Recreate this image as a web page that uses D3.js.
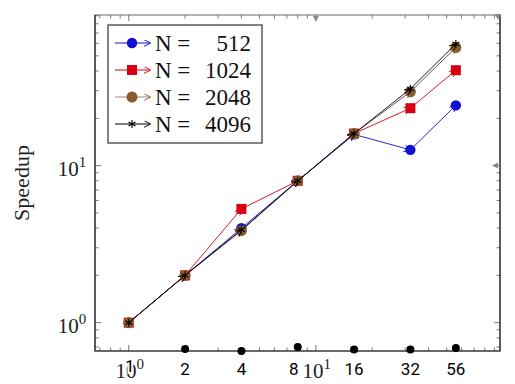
<!DOCTYPE html>
<html>
<head>
<meta charset="utf-8">
<script src="https://cdn.jsdelivr.net/npm/d3@7"></script>
<style>
  body { margin: 0; background: #fff; }
  .serif { font-family: "Liberation Serif", "DejaVu Serif", serif; }
  .sans { font-family: Roboto, "Liberation Sans", sans-serif; }
</style>
</head>
<body>
<div id="chart"></div>
<script>
// data
var threads = [1, 2, 4, 8, 16, 32, 56];
var speedup512 = [1, 2, 4, 8, 15.8, 12.6, 24.2];
var speedup1024 = [1, 2, 5.3, 8, 16, 23.2, 40.5];
var speedup2048 = [1, 2, 3.85, 8, 16, 29.5, 56.5];
var speedup4096 = [1, 2, 3.9, 8, 16, 30.8, 59.5];
var seriesNames = ["512", "1024", "2048", "4096"];
var seriesColors = ["#1010d0", "#d80010", "#8c5c2c", "#000000"];
var seriesMarks = ["circle", "square", "circle", "star"];
// stray dots sitting on the x axis
var dotThreads = [2, 4, 8, 16, 32, 56];
var dotValues = [0.68, 0.66, 0.70, 0.675, 0.675, 0.69];
var xTickLabels = ["2", "4", "8", "16", "32", "56"];

var svgWidth = 515;
var svgHeight = 384;
var margin = { top: 15, right: 15, bottom: 33, left: 95 };
var width = svgWidth - margin.left - margin.right;
var height = svgHeight - margin.top - margin.bottom;

var svg = d3.select("#chart").append("svg")
  .attr("width", svgWidth)
  .attr("height", svgHeight);

var defs = svg.append("defs");
seriesColors.forEach(function(c, i) {
  defs.append("marker")
    .attr("id", "arr" + i)
    .attr("viewBox", "0 0 10 10")
    .attr("refX", 9).attr("refY", 5)
    .attr("markerWidth", 7).attr("markerHeight", 7)
    .attr("markerUnits", "userSpaceOnUse")
    .attr("orient", "auto")
    .append("path")
    .attr("d", "M0,0 L10,5 L0,10")
    .attr("fill", "none")
    .attr("stroke", c)
    .attr("stroke-width", 1.3);
});

var chartGroup = svg.append("g")
  .attr("transform", `translate(${margin.left}, ${margin.top})`);

var x = d3.scaleLog().domain([0.66, 96.4]).range([0, width]);
var y = d3.scaleLog().domain([0.66, 91]).range([height, 0]);

// log ticks on all four sides, pointing in
var xMinor = [], yMinor = [];
[1, 10].forEach(function(dec) {
  for (var k = 1; k < 10; k++) {
    var v = dec * k;
    if (v >= 0.66 && v <= 96.4) xMinor.push(v);
    if (v >= 0.66 && v <= 91) yMinor.push(v);
  }
});
[0.7, 0.8, 0.9].forEach(function(v) { xMinor.unshift(v); yMinor.unshift(v); });

var tickG = chartGroup.append("g").attr("stroke", "#555").attr("stroke-width", 0.8);
xMinor.forEach(function(v) {
  var len = (v == 1 || v == 10) ? 6 : 3.5;
  tickG.append("line").attr("x1", x(v)).attr("x2", x(v)).attr("y1", height).attr("y2", height - len);
  tickG.append("line").attr("x1", x(v)).attr("x2", x(v)).attr("y1", 0).attr("y2", len);
});
yMinor.forEach(function(v) {
  var len = (v == 1 || v == 10) ? 6 : 3.5;
  tickG.append("line").attr("y1", y(v)).attr("y2", y(v)).attr("x1", 0).attr("x2", len);
  tickG.append("line").attr("y1", y(v)).attr("y2", y(v)).attr("x1", width).attr("x2", width - len);
});

// frame
chartGroup.append("rect")
  .attr("width", width).attr("height", height)
  .attr("fill", "none").attr("stroke", "#666").attr("stroke-width", 1);
chartGroup.append("path")
  .attr("d", `M0,0 V${height} H${width} V0`)
  .attr("fill", "none").attr("stroke", "#222").attr("stroke-width", 1.2);

// axis arrow tips
var tipG = chartGroup.append("g").attr("fill", "#888");
tipG.append("path").attr("d", `M${x(10) - 3},1 L${x(10) + 3},1 L${x(10)},7 Z`);
tipG.append("path").attr("d", `M${width - 5},-1 L${width + 1},-1 L${width - 2},5 Z`);
tipG.append("path").attr("d", `M${width - 2},${y(10) - 3} L${width - 2},${y(10) + 3} L${width - 8},${y(10)} Z`);

// marker drawing
function drawMark(g, kind, color, cx, cy) {
  if (kind == "circle") {
    g.append("circle").attr("cx", cx).attr("cy", cy).attr("r", color == "#8c5c2c" ? 5.5 : 5.2)
      .attr("fill", color);
  } else if (kind == "square") {
    g.append("rect").attr("x", cx - 5).attr("y", cy - 5).attr("width", 10).attr("height", 10)
      .attr("fill", color);
  } else {
    g.append("path")
      .attr("d", d3.symbol().type(d3.symbolAsterisk).size(45)())
      .attr("transform", `translate(${cx},${cy})`)
      .attr("fill", "none").attr("stroke", color).attr("stroke-width", 1.1);
  }
}

var allSeries = [speedup512, speedup1024, speedup2048, speedup4096];
allSeries.forEach(function(vals, i) {
  var g = chartGroup.append("g");
  var lineColor = i == 2 ? "#5a4a3a" : seriesColors[i];
  for (var k = 1; k < threads.length; k++) {
    g.append("line")
      .attr("x1", x(threads[k - 1])).attr("y1", y(vals[k - 1]))
      .attr("x2", x(threads[k])).attr("y2", y(vals[k]))
      .attr("stroke", lineColor).attr("stroke-width", 0.9)
      .attr("marker-end", `url(#arr${i})`);
  }
  threads.forEach(function(t, k) {
    drawMark(g, seriesMarks[i], seriesColors[i], x(t), y(vals[k]));
  });
});

// stray black dots on the axis
chartGroup.selectAll(".dot")
  .data(dotThreads)
  .enter()
  .append("circle")
  .attr("cx", (d, i) => x(d))
  .attr("cy", (d, i) => y(dotValues[i]))
  .attr("r", 4)
  .attr("fill", "#000");

// power-of-ten labels, serif
var supLabel = function(g, px, py, exp) {
  var t = g.append("text").attr("class", "serif").attr("x", px).attr("y", py)
    .attr("text-anchor", "middle").attr("font-size", 21).attr("fill", "#222");
  t.append("tspan").text("10");
  t.append("tspan").attr("dy", -9).attr("font-size", 15).text(exp);
};
supLabel(chartGroup, x(1) + 1, height + 27, "0");
supLabel(chartGroup, x(10) + 1, height + 27, "1");
chartGroup.append("text")
  .attr("class", "sans")
  .attr("x", x(1) + 1).attr("y", height + 21)
  .attr("text-anchor", "middle")
  .attr("font-size", 17).attr("fill", "#000")
  .attr("stroke", "#fff").attr("stroke-width", 4).attr("paint-order", "stroke")
  .text("1");
chartGroup.selectAll(".xlab")
  .data(xTickLabels)
  .enter()
  .append("text")
  .attr("class", "sans")
  .attr("x", (d, i) => x(dotThreads[i]) - (i == 2 ? 4 : 0))
  .attr("y", height + 24)
  .attr("text-anchor", "middle")
  .attr("font-size", 17).attr("fill", "#000")
  .text(d => d);

// y tick labels
supLabel(chartGroup, -23, y(1) + 10, "0");
supLabel(chartGroup, -23, y(10) + 10, "1");

// y axis title
svg.append("text")
  .attr("class", "serif")
  .attr("transform", `translate(29, 183) rotate(-90)`)
  .attr("text-anchor", "middle")
  .attr("font-size", 22).attr("fill", "#222")
  .text("Speedup");

// legend
var legend = chartGroup.append("g").attr("transform", "translate(13, 10)");
legend.append("rect")
  .attr("width", 154).attr("height", 118)
  .attr("fill", "#fff").attr("stroke", "#333").attr("stroke-width", 1.2);
seriesNames.forEach(function(name, i) {
  var ly = 18 + i * 27;
  var lc = i == 2 ? "#9a8a7a" : seriesColors[i];
  legend.append("line")
    .attr("x1", 7).attr("x2", 42).attr("y1", ly).attr("y2", ly)
    .attr("stroke", lc).attr("stroke-width", 1)
    .attr("marker-end", `url(#arr${i})`);
  drawMark(legend, seriesMarks[i], seriesColors[i], 24, ly);
  legend.append("text").attr("class", "serif").attr("x", 47).attr("y", ly + 8)
    .attr("font-size", 23).attr("fill", "#111").text("N =");
  legend.append("text").attr("class", "serif").attr("x", 143).attr("y", ly + 8)
    .attr("text-anchor", "end")
    .attr("font-size", 23).attr("fill", "#111").text(name);
});
</script>
</body>
</html>
